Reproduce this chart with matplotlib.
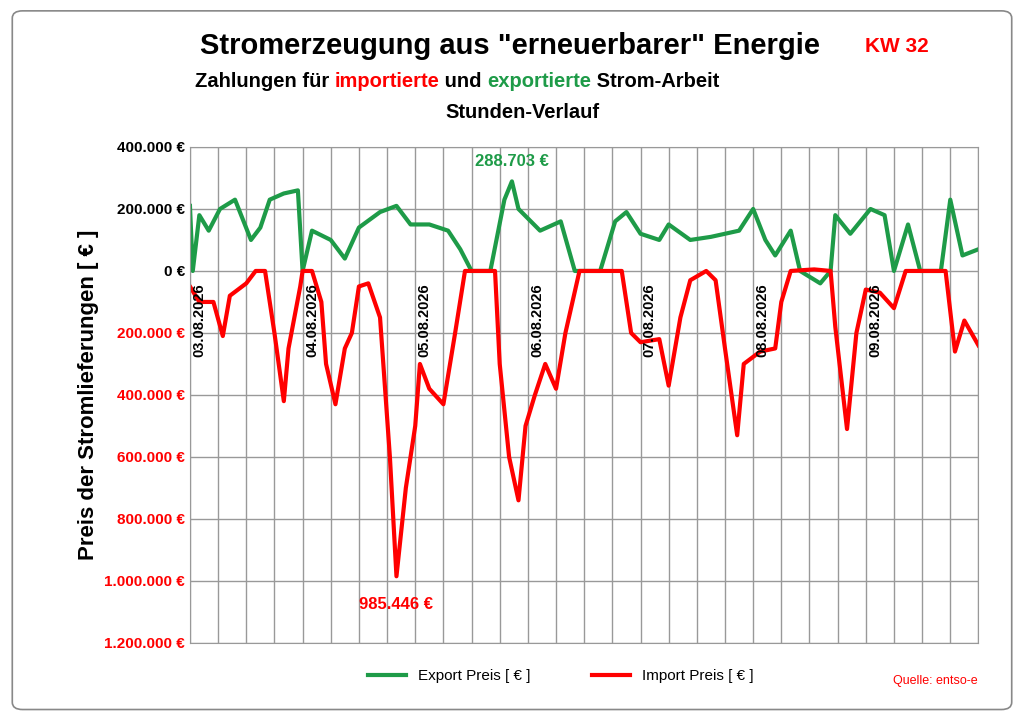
import matplotlib.pyplot as plt
from matplotlib.patches import FancyBboxPatch

# Stundenindex (0..168) und Werte in Tausend Euro
import_hours = [0, 2, 5, 7, 8.5, 12, 14, 16, 18, 20, 21, 23.5, 24, 26, 28, 29, 31, 33, 34.5, 36, 38, 40.5, 42.6, 44, 46, 48, 49, 51, 54, 56.5, 58.6, 65, 66, 68, 70, 71.5, 73.5, 75.7, 78, 80, 83, 92, 94, 96, 100, 102, 104.5, 106.6, 110, 112, 114, 116.6, 118, 121.5, 124.7, 126, 128, 133, 136.5, 137.5, 140, 142, 144, 147, 150, 152.5, 161, 163, 165, 168]
import_values = [-50, -100, -100, -210, -80, -40, 0, 0, -200, -420, -250, -50, 0, 0, -100, -300, -430, -250, -200, -50, -40, -150, -600, -985, -700, -500, -300, -380, -430, -200, 0, 0, -300, -600, -740, -500, -400, -300, -380, -200, 0, 0, -200, -230, -220, -370, -150, -30, 0, -30, -250, -530, -300, -260, -250, -100, 0, 5, 0, -180, -510, -200, -60, -70, -120, 0, 0, -260, -160, -240]

export_hours = [0, 0.6, 2, 4, 6.4, 9.6, 13, 15, 17, 20, 23, 24, 26, 30, 33, 36, 40.5, 44, 47, 51, 55, 57.6, 60, 64, 67, 68.6, 70, 74.6, 79, 82, 87.4, 90.6, 93, 96, 100, 102, 106.6, 111, 117, 120, 122.6, 124.7, 128, 130, 134.3, 136.5, 137.5, 140.7, 145, 148, 150, 153, 155.6, 160, 162, 164.6, 168]
export_values = [210, 0, 180, 130, 200, 230, 100, 140, 230, 250, 260, 0, 130, 100, 40, 140, 190, 210, 150, 150, 130, 70, 0, 0, 230, 289, 200, 130, 160, 0, 0, 160, 190, 120, 100, 150, 100, 110, 130, 200, 100, 50, 130, 0, -40, 0, 180, 120, 200, 180, 0, 150, 0, 0, 230, 50, 70]

days = ['03.08.2026', '04.08.2026', '05.08.2026', '06.08.2026', '07.08.2026', '08.08.2026', '09.08.2026']


def euro(v):
    s = f'{abs(v):,.0f}'.replace(',', '.')
    return s + ' €'


def plot_chart():
    plt.rcParams['font.family'] = ['Liberation Sans', 'DejaVu Sans']
    fig = plt.figure(figsize=(10.24, 7.24), dpi=100)
    fig.patches.append(FancyBboxPatch((0.012, 0.02), 0.976, 0.965, boxstyle='round,pad=0,rounding_size=0.01',
                                      transform=fig.transFigure, fill=False, edgecolor='#888888', lw=1.2))
    ax = plt.axes([0.1855, 0.112, 0.77, 0.685])

    plt.plot(export_hours, [v * 1000 for v in export_values], color='#1e9b48', lw=3, label='Export Preis [ € ]')
    plt.plot(import_hours, [v * 1000 for v in import_values], color='#ff0000', lw=3, label='Import Preis [ € ]')

    plt.xlim(0, 168)
    plt.ylim(-1200000, 400000)
    plt.xticks(range(0, 169, 6), [''] * 29)
    ticks = list(range(-1200000, 400001, 200000))
    plt.yticks(ticks, [euro(t) for t in ticks], fontweight='bold', fontsize=11)
    for lab, t in zip(ax.get_yticklabels(), ticks):
        lab.set_color('#ff0000' if t < 0 else 'black')
    plt.tick_params(length=0)
    plt.grid(True, color='#999999', lw=1)
    for s in ax.spines.values():
        s.set_color('#999999')
    plt.ylabel('Preis der Stromlieferungen [ € ]', fontsize=16, fontweight='bold')

    for i, d in enumerate(days):
        plt.text(i * 24 + 0.5, -40000, d, rotation=90, ha='left', va='top', fontsize=10.5, fontweight='bold')

    plt.text(68.5, 340000, '288.703 €', color='#1e9b48', ha='center', fontsize=12, fontweight='bold')
    plt.text(44, -1090000, '985.446 €', color='#ff0000', ha='center', fontsize=12, fontweight='bold')

    fig.text(0.498, 0.925, 'Stromerzeugung aus "erneuerbarer" Energie', ha='center', fontsize=21, fontweight='bold')
    fig.text(0.876, 0.928, 'KW 32', ha='center', fontsize=15, fontweight='bold', color='#ff0000')
    t1 = fig.text(0.19, 0.88, 'Zahlungen für ', fontsize=14.5, fontweight='bold')
    fig.canvas.draw()
    parts = [('importierte', '#ff0000'), (' und ', 'black'), ('exportierte', '#1e9b48'), (' Strom-Arbeit', 'black')]
    prev = t1
    for txt, col in parts:
        prev = plt.annotate(txt, xycoords=prev, xy=(1, 0), va='bottom', fontsize=14.5, fontweight='bold', color=col)
    fig.text(0.51, 0.837, 'Stunden-Verlauf', ha='center', fontsize=14.5, fontweight='bold')

    plt.legend(loc='upper center', bbox_to_anchor=(0.47, -0.025), ncol=2, frameon=False, fontsize=11, handlelength=2.5, columnspacing=4)
    fig.text(0.955, 0.055, 'Quelle: entso-e', ha='right', color='#ff0000', fontsize=9)
    plt.savefig('out.png', dpi=100)


if __name__ == '__main__':
    plot_chart()
